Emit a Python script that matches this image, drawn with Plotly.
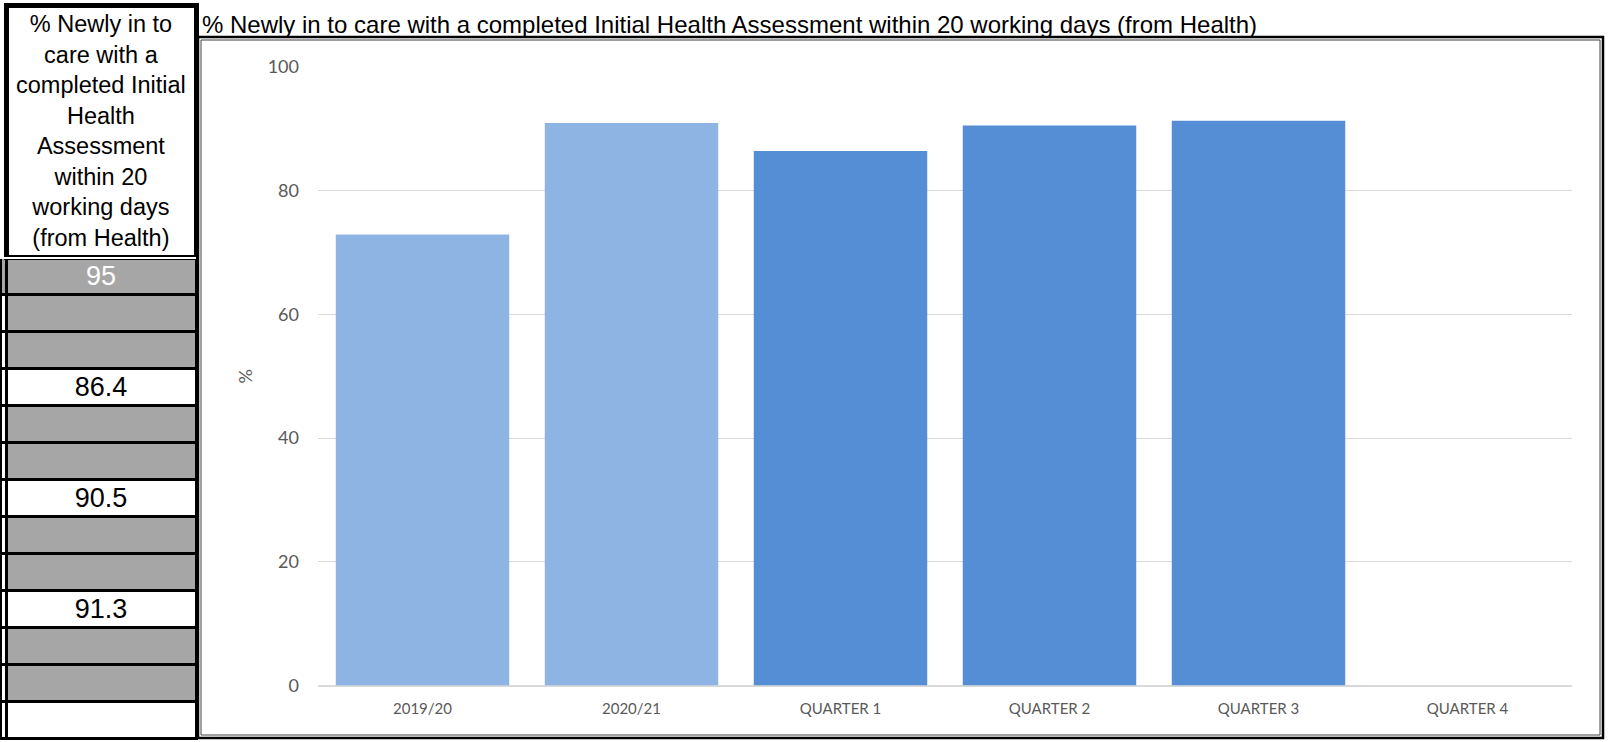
import plotly.graph_objects as go

# chart data
categories = ["2019/20", "2020/21", "QUARTER 1", "QUARTER 2", "QUARTER 3", "QUARTER 4"]
values = [72.9, 90.9, 86.4, 90.5, 91.3, None]
bar_colors = ["#8EB4E3", "#8EB4E3", "#558ED5", "#558ED5", "#558ED5", "#558ED5"]

# side table data
table_header = "% Newly in to<br>care with a<br>completed Initial<br>Health<br>Assessment<br>within 20<br>working days<br>(from Health)"
table_values = ["95", "", "", "86.4", "", "", "90.5", "", "", "91.3", "", "", ""]
table_fills = ["#A6A6A6", "#A6A6A6", "#A6A6A6", "#FFFFFF", "#A6A6A6", "#A6A6A6",
               "#FFFFFF", "#A6A6A6", "#A6A6A6", "#FFFFFF", "#A6A6A6", "#A6A6A6", "#FFFFFF"]
table_font_colors = ["#FFFFFF"] + ["#000000"] * 12
# sliver of the neighbouring column that shows at the left edge
stub_fills = ["#A6A6A6"] + ["#FFFFFF"] * 12

W, H = 1611, 742

fig = go.Figure()

fig.add_trace(go.Bar(
    x=categories, y=values,
    marker=dict(color=bar_colors, line=dict(width=0)),
    hoverinfo="x+y",
))

fig.add_trace(go.Table(
    domain=dict(x=[0, 196 / W], y=[0, 1 - 5 / H]),
    columnwidth=[6, 185],
    header=dict(
        values=["", ""],
        height=252,
        fill_color="white",
        line=dict(color=["white", "black"], width=[1, 5]),
    ),
    cells=dict(
        values=[[""] * len(table_values), table_values],
        height=37,
        fill_color=[stub_fills, table_fills],
        line=dict(color="black", width=3),
        align="center",
        font=dict(family="Liberation Sans, Arial", size=27,
                  color=[["#000000"] * 13, table_font_colors]),
    ),
))

# thin white gap between the header box and the rows
fig.add_shape(type="line", xref="paper", yref="paper",
              x0=0, x1=196 / W, y0=1 - 258 / H, y1=1 - 258 / H,
              line=dict(color="white", width=2), layer="above")

# header text (multi-line, centred)
fig.add_annotation(
    text=table_header, xref="paper", yref="paper",
    x=101 / W, y=1 - 131 / H, xanchor="center", yanchor="middle",
    align="center", showarrow=False,
    font=dict(family="Liberation Sans, Arial", size=23.5, color="black"),
)

# chart frame (double line)
fig.add_shape(type="rect", xref="paper", yref="paper",
              x0=198 / W, x1=1603 / W, y0=1 - 738 / H, y1=1 - 37 / H,
              line=dict(color="black", width=2.5), fillcolor="rgba(0,0,0,0)", layer="below")
fig.add_shape(type="rect", xref="paper", yref="paper",
              x0=201 / W, x1=1600 / W, y0=1 - 735 / H, y1=1 - 40 / H,
              line=dict(color="#404040", width=1), fillcolor="rgba(0,0,0,0)", layer="below")

fig.add_annotation(
    text="% Newly in to care with a completed Initial Health Assessment within 20 working days (from Health)",
    xref="paper", yref="paper", x=200 / W, y=1 - 9 / H,
    xanchor="left", yanchor="top", showarrow=False,
    font=dict(family="Liberation Sans, Arial", size=24, color="black"),
)

fig.update_layout(
    width=W, height=H, autosize=False,
    margin=dict(l=0, r=0, t=0, b=0, pad=0, autoexpand=False),
    paper_bgcolor="white", plot_bgcolor="white",
    showlegend=False,
    bargap=0.17,
    xaxis=dict(
        domain=[318 / W, 1572 / W], automargin=False,
        showgrid=False, showline=False, zeroline=False,
        tickfont=dict(family="Lato, Open Sans", size=15, color="#595959"),
        ticks="", ticklabelstandoff=12,
    ),
    yaxis=dict(
        domain=[1 - 685.5 / H, 1 - 66.8 / H], automargin=False,
        range=[0, 100], dtick=20,
        showgrid=True, gridcolor="#D9D9D9", gridwidth=1,
        zeroline=True, zerolinecolor="#D9D9D9", zerolinewidth=1.5,
        showline=False,
        tickfont=dict(family="Lato, Open Sans", size=18, color="#595959"),
        ticks="", ticklabelstandoff=18,
        title=dict(text="%", font=dict(family="Lato, Open Sans", size=18, color="#595959"), standoff=10),
    ),
)

fig.write_html(
    "out.html",
    config={"displayModeBar": False},
    post_script=(
        "document.documentElement.style.margin='0';"
        "document.documentElement.style.overflow='hidden';"
        "document.body.style.margin='0';document.body.style.overflow='hidden';"
        "var gd=document.getElementById('{plot_id}');"
        "gd.style.position='fixed';gd.style.top='0px';gd.style.left='0px';"
    ),
)
